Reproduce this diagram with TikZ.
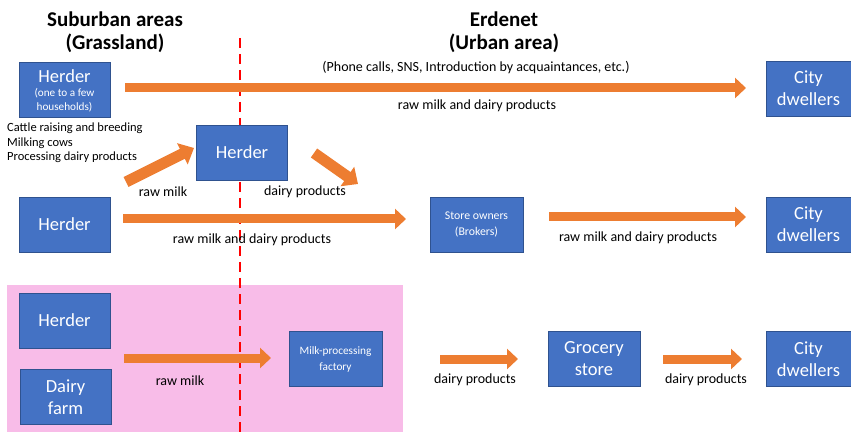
\documentclass[tikz,border=0pt]{standalone}
\usepackage{fontspec}
\setmainfont{Carlito}
\usetikzlibrary{arrows.meta}
\definecolor{boxblue}{RGB}{68,114,196}
\definecolor{boxedge}{RGB}{47,82,143}
\definecolor{arrorange}{RGB}{237,125,49}
\definecolor{zonepink}{RGB}{248,188,232}
\definecolor{dashred}{RGB}{255,0,0}
\tikzset{
  actor/.style={draw=boxedge, line width=0.8pt, fill=boxblue, text=white, align=center, inner sep=0pt, minimum width=#1, minimum height=55pt},
  actor/.default=91pt,
  bigtxt/.style={font=\fontsize{18.5}{22}\selectfont},
  smalltxt/.style={font=\fontsize{11.8}{16}\selectfont},
  flow/.style={line width=9pt, arrorange, -{Triangle[width=20pt,length=11pt]}},
  flowd/.style={line width=11pt, arrorange, -{Triangle[width=23pt,length=13pt]}},
  lab/.style={font=\fontsize{14}{16}\selectfont, text=black, inner sep=0pt},
  title/.style={font=\bfseries\fontsize{21}{23}\selectfont, align=center, inner sep=0pt}
}
\begin{document}
\begin{tikzpicture}[x=1pt,y=-1pt]
\useasboundingbox (0,0) rectangle (851,438);
% pink zone
\fill[zonepink] (7,285) rectangle (403,432);
% titles
\node[title] (t1) at (115,32) {Suburban areas\\(Grassland)};
\node[title] (t2) at (504,32) {Erdenet\\(Urban area)};
% divider
\coordinate (dtop) at (240,38);
\coordinate (dbot) at (240,438);
\draw[dashred, line width=2.4pt, dash pattern=on 10pt off 6pt] (dtop) -- (dbot);
% boxes
\node[actor] (h1) at (64.5,89.5) {};
\node[text=white, inner sep=0pt, font=\fontsize{18.5}{20}\selectfont] (h1a) at (64.5,76.5) {Herder};
\node[text=white, inner sep=0pt, align=center, font=\fontsize{11.2}{14}\selectfont] (h1b) at (64.5,100) {(one to a few\\households)};
\node[actor,bigtxt] (h2) at (242,152.5) {Herder};
\node[actor,bigtxt] (h3) at (64.5,224.5) {Herder};
\node[actor=93pt,smalltxt] (so) at (476.5,224.5) {Store owners\\(Brokers)};
\node[actor=85pt,bigtxt] (c1) at (808.5,88.5) {City\\dwellers};
\node[actor=85pt,bigtxt] (c2) at (808.5,224.5) {City\\dwellers};
\node[actor,bigtxt] (h4) at (64.5,320.5) {Herder};
\node[actor,bigtxt] (df) at (65.5,397) {Dairy\\farm};
\node[actor=93pt,font=\fontsize{11.3}{16}\selectfont] (mf) at (335.5,359) {Milk-processing\\factory};
\node[actor=92pt,bigtxt] (gs) at (594,359) {Grocery\\store};
\node[actor=85pt,bigtxt] (c3) at (808.5,359) {City\\dwellers};
% side text
\node[lab, font=\fontsize{12.5}{14.5}\selectfont, align=left, anchor=north west] (act) at (7,123) {Cattle raising and breeding\\Milking cows\\Processing dairy products};
% arrows
\coordinate (a1s) at (125,88); \coordinate (a1e) at (746,88);
\draw[flow] (a1s) -- (a1e);
\node[lab] (l1a) at (476,68) {(Phone calls, SNS, Introduction by acquaintances, etc.)};
\node[lab] (l1b) at (477,106) {raw milk and dairy products};
\coordinate (a2s) at (126,182); \coordinate (a2e) at (194,148);
\draw[flowd] (a2s) -- (a2e);
\coordinate (a3s) at (314,153); \coordinate (a3e) at (358,184);
\draw[flowd] (a3s) -- (a3e);
\node[lab] (l2) at (163,192) {raw milk};
\node[lab] (l3) at (305,192) {dairy products};
\coordinate (a4s) at (123,219); \coordinate (a4e) at (406,219);
\draw[flow] (a4s) -- (a4e);
\node[lab] (l4) at (252,240) {raw milk and dairy products};
\coordinate (a5s) at (549,217); \coordinate (a5e) at (746,217);
\draw[flow] (a5s) -- (a5e);
\node[lab] (l5) at (638,238) {raw milk and dairy products};
\coordinate (a6s) at (124,358); \coordinate (a6e) at (271,358);
\draw[flow] (a6s) -- (a6e);
\node[lab] (l6) at (180,381) {raw milk};
\coordinate (a7s) at (440,359); \coordinate (a7e) at (518,359);
\draw[flow] (a7s) -- (a7e);
\node[lab] (l7) at (475,380) {dairy products};
\coordinate (a8s) at (663,359); \coordinate (a8e) at (742,359);
\draw[flow] (a8s) -- (a8e);
\node[lab] (l8) at (706,380) {dairy products};
\end{tikzpicture}
\end{document}
